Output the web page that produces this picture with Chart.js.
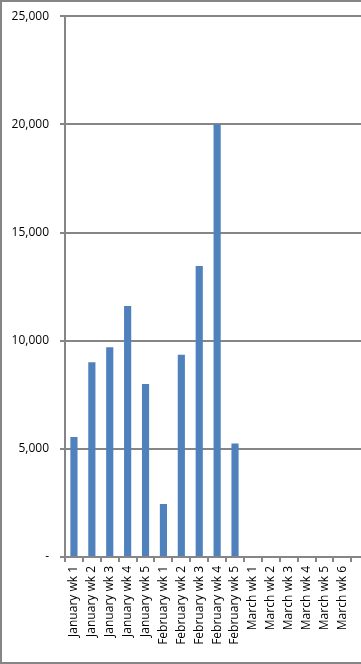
<!DOCTYPE html>
<html>
<head>
<meta charset="utf-8">
<script src="https://cdn.jsdelivr.net/npm/chart.js@4/dist/chart.umd.min.js"></script>
<style>
  html, body { margin: 0; padding: 0; background: #fff; overflow: hidden; }
  #wrap { position: relative; width: 361px; height: 664px; overflow: hidden; }
  #weeklyChart { position: absolute; left: 0; top: -2px; }
  #wrap::after {
    content: ''; position: absolute; left: 0; top: 0; right: -10px; bottom: 0;
    border: 2px solid #868686; pointer-events: none;
  }
</style>
</head>
<body>
<div id="wrap"><canvas id="weeklyChart" width="361" height="664"></canvas></div>
<script>
// Weekly totals
const weeks = [
    'January wk 1', 'January wk 2', 'January wk 3', 'January wk 4', 'January wk 5',
    'February wk 1', 'February wk 2', 'February wk 3', 'February wk 4', 'February wk 5',
    'March wk 1', 'March wk 2', 'March wk 3', 'March wk 4', 'March wk 5', 'March wk 6'
];
const weekValues = [5550, 9000, 9700, 11600, 8000, 2450, 9350, 13450, 20000, 5250,
    null, null, null, null, null, null];
const yMax = 25000;
const yStep = 5000;

const gray = '#868686';

// the original plot runs on past the right edge, so carry the grid lines there
const extendGrid = {
    id: 'extendGrid',
    beforeDatasetsDraw(chart) {
        const ctx = chart.ctx;
        const y = chart.scales.y;
        const area = chart.chartArea;
        ctx.save();
        ctx.strokeStyle = gray;
        ctx.lineWidth = 2;
        y.ticks.forEach(function(t) {
            const py = Math.round(y.getPixelForValue(t.value));
            ctx.beginPath();
            ctx.moveTo(area.right - 1, py);
            ctx.lineTo(chart.width, py);
            ctx.stroke();
        });
        ctx.restore();
    }
};

document.addEventListener('DOMContentLoaded', function() {
    const ctx = document.getElementById('weeklyChart').getContext('2d');
    new Chart(ctx, {
        type: 'bar',
        data: {
            labels: weeks,
            datasets: [{
                data: weekValues,
                backgroundColor: '#4F81BD',
                categoryPercentage: 1,
                barPercentage: 0.4
            }]
        },
        options: {
            responsive: false,
            animation: false,
            layout: { padding: { top: 7, right: 6, bottom: 0, left: 0 } },
            plugins: {
                legend: { display: false },
                tooltip: { enabled: false }
            },
            scales: {
                y: {
                    min: 0,
                    max: yMax,
                    afterFit: function(scale) { scale.width = 65; },
                    ticks: {
                        stepSize: yStep,
                        padding: 11,
                        color: '#000',
                        font: { family: 'Open Sans', size: 12 },
                        callback: function(v) { return v === 0 ? '-' : v.toLocaleString('en-US'); }
                    },
                    grid: { color: gray, lineWidth: 2, tickLength: 5 },
                    border: { color: gray, width: 2 }
                },
                x: {
                    afterFit: function(scale) { scale.height = 105; },
                    ticks: {
                        minRotation: 90,
                        maxRotation: 90,
                        padding: 4,
                        color: '#000',
                        font: { family: 'Open Sans', size: 12 }
                    },
                    grid: { drawOnChartArea: false, color: gray, lineWidth: 2, tickLength: 5 },
                    border: { color: gray, width: 2 }
                }
            }
        },
        plugins: [extendGrid]
    });
});
</script>
</body>
</html>
